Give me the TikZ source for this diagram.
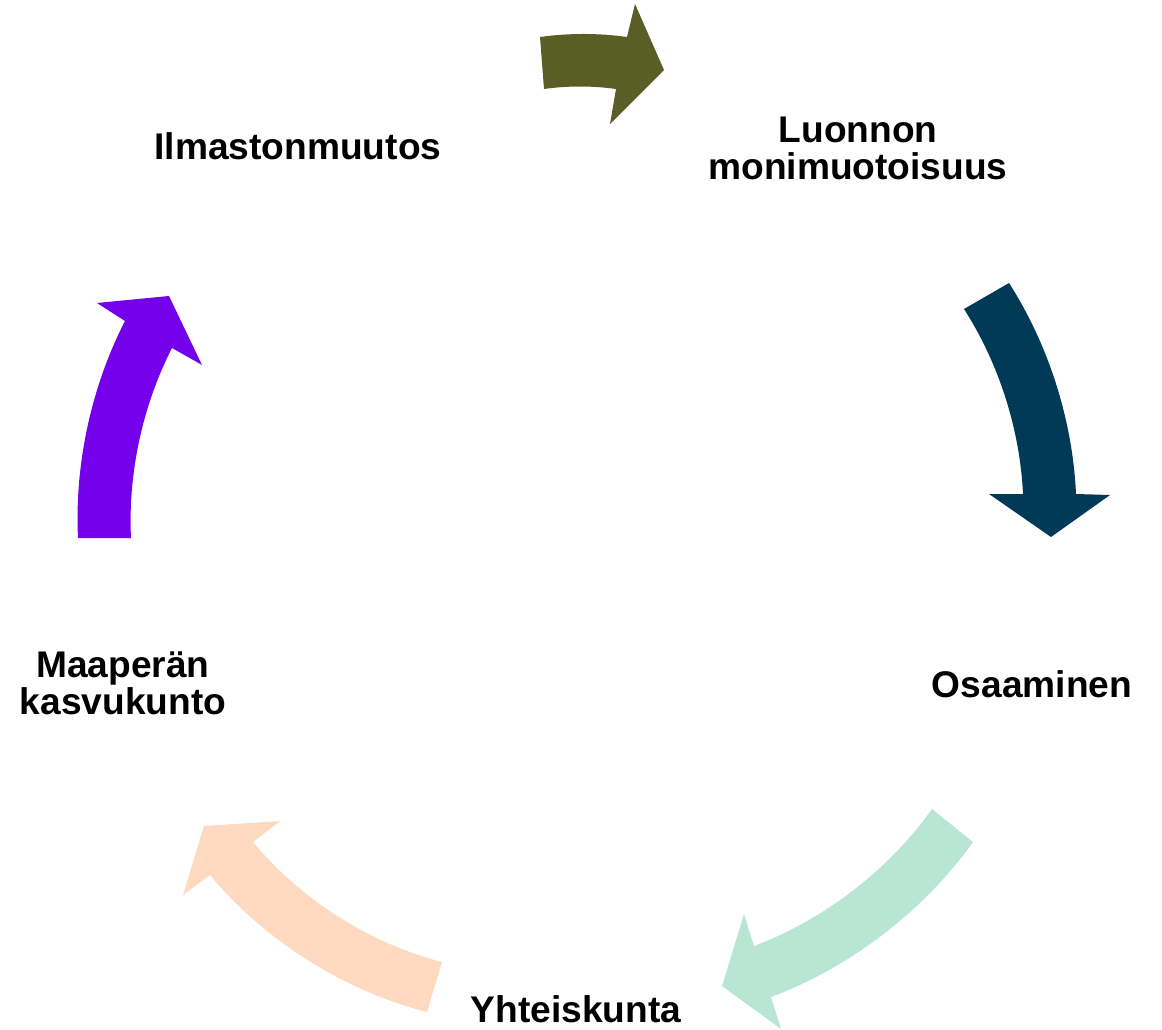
\documentclass[tikz,border=0pt]{standalone}
\usepackage{fontspec}
\setmainfont{Liberation Sans}
\usetikzlibrary{positioning}

\definecolor{oliveArrow}{RGB}{89,94,38}
\definecolor{navyArrow}{RGB}{0,58,87}
\definecolor{mintArrow}{RGB}{185,230,212}
\definecolor{peachArrow}{RGB}{255,217,192}
\definecolor{violetArrow}{RGB}{116,0,236}

\begin{document}
\begin{tikzpicture}[
		x=0.025cm, y=-0.025cm,
		teema/.style={font=\fontsize{26.4}{26}\selectfont\bfseries, align=center, inner sep=0pt, anchor=north},
		rim/.style={bend left=#1, looseness=0.85},
		rimback/.style={bend right=#1, looseness=0.85}
		]
		\useasboundingbox (0,0) rectangle (1162,1030);
		
		% Themes
		\node[teema] (ilma) at (298,132) {Ilmastonmuutos};
		\node[teema] (luonto) at (858,117) {Luonnon\\monimuotoisuus};
		\node[teema] (osaa) at (1032,670) {Osaaminen};
		\node[teema] (yhteis) at (576,995) {Yhteiskunta};
		\node[teema] (maa) at (123,652) {Maaperän\\kasvukunto};
		
		% -------------------------
		% Curved block arrows
		% -------------------------
		\fill[oliveArrow] (540,37) to[rim=8] (627,37) -- (635,4) -- (664,70)
			-- (610,124) -- (616,89) to[rimback=8] (544,89) -- cycle;
		
		\fill[navyArrow] (1009,283) to[rim=15] (1076,494) -- (1110,495) -- (1051,537)
			-- (989,494) -- (1023,494) to[rimback=15] (964,309) -- cycle;
		
		\fill[mintArrow] (973,842) to[rim=17] (771,997) -- (781,1029) -- (722,986)
			-- (744,914) -- (754,946) to[rimback=17] (932,809) -- cycle;
		
		\fill[peachArrow] (427,1012) to[rim=18] (210,875) -- (183,895) -- (204,826)
			-- (280,821) -- (253,842) to[rimback=18] (442,962) -- cycle;
		
		\fill[violetArrow] (78,538) to[rim=15] (125,321) -- (97,303) -- (169,296)
			-- (202,365) -- (172,348) to[rimback=15] (131,538) -- cycle;
		
	\end{tikzpicture}
\end{document}
